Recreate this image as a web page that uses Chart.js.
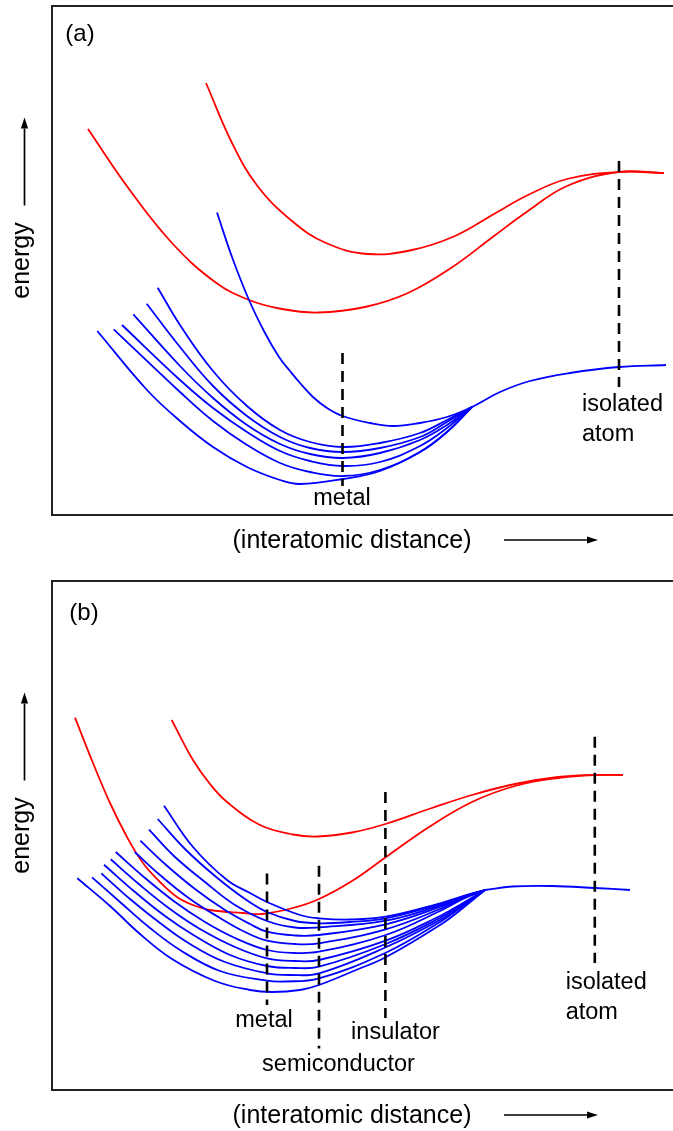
<!DOCTYPE html>
<html><head><meta charset="utf-8">
<script src="https://cdn.jsdelivr.net/npm/chart.js@4/dist/chart.umd.min.js"></script>
<style>
html,body{margin:0;padding:0;background:#fff;overflow:hidden;}
#wrap{position:relative;width:673px;height:1131px;}
canvas{position:absolute;left:0;}
</style></head><body>
<div id="wrap">
<canvas id="ca" width="673" height="566" style="top:0"></canvas>
<canvas id="cb" width="673" height="565" style="top:566px"></canvas>
</div>
<script>
// ---------- Panel (a) data: [distance, energy] in arbitrary units ----------
const A_RED_UPPER = [[15.4,43.2],[18.0,37.2],[20.55,32.9],[24.0,29.4],[27.4,27.2],[31.6,26.1],[36.0,26.5],[40.3,27.9],[44.2,30.1],[47.6,32.0],[51.5,33.6],[56.7,34.3],[61.2,34.2]];
const A_RED_LOWER = [[3.6,38.6],[7.7,32.6],[12.0,27.2],[16.3,23.3],[19.7,21.5],[23.0,20.6],[26.6,20.25],[31.3,20.8],[35.6,22.2],[39.9,24.7],[44.2,27.9],[47.6,30.4],[51.5,32.9],[56.7,34.3],[61.2,34.2]];
const A_BLUE_UPPER = [[16.5,30.25],[18.0,25.8],[19.7,21.5],[21.3,18.2],[22.7,15.8],[23.8,14.4],[24.8,13.2],[26.1,11.8],[27.5,10.7],[29.05,9.9],[31.8,9.2],[34.1,8.9],[36.8,9.2],[39.5,9.8],[42.0,10.8],[44.8,12.3],[47.8,13.4],[51.8,14.2],[56.7,14.8],[61.4,15.0]];
const A_BAND_1 = [[10.57,22.73],[12.8,19.0],[16.1,14.4],[19.5,10.9],[22.8,8.5],[25.8,7.3],[29.1,6.8],[32.8,7.2],[36.8,8.2],[39.5,9.5],[42.0,10.8]];
const A_BAND_2 = [[9.47,21.13],[12.8,16.8],[16.1,12.9],[19.5,9.9],[22.8,7.8],[25.8,6.7],[29.1,6.3],[32.8,6.7],[36.8,7.8],[39.5,9.3],[42.0,10.8]];
const A_BAND_3 = [[8.13,20.07],[12.8,14.9],[16.1,11.7],[19.5,9.0],[22.8,7.1],[25.8,6.1],[29.1,5.7],[32.8,6.2],[36.8,7.5],[39.5,9.0],[42.0,10.8]];
const A_BAND_4 = [[7.0,19.0],[12.8,13.5],[16.1,10.7],[19.5,8.3],[22.8,6.4],[25.8,5.4],[29.1,4.9],[32.8,5.3],[36.8,6.9],[39.5,8.7],[42.0,10.8]];
const A_BAND_5 = [[6.17,18.57],[12.8,12.3],[16.1,9.4],[19.5,7.0],[22.8,5.2],[25.8,4.3],[29.1,3.9],[32.8,4.5],[36.8,6.3],[39.5,8.3],[42.0,10.8]];
const A_BAND_6 = [[4.53,18.4],[9.5,12.5],[12.8,9.4],[16.1,6.8],[19.5,4.8],[22.8,3.5],[24.8,3.1],[29.1,3.6],[32.8,4.4],[36.8,6.3],[39.5,8.3],[42.0,10.8]];
const A_MARK_METAL = [[29.05,16.2],[29.05,2.9]];
const A_MARK_ATOM  = [[56.7,35.4],[56.7,12.8]];

// ---------- Panel (b) data ----------
const B_RED_UPPER = [[11.97,37.0],[14.1,33.0],[15.8,30.6],[17.5,28.8],[20.8,26.5],[24.1,25.55],[26.5,25.35],[30.0,25.75],[33.34,26.6],[37.7,28.1],[42.0,29.5],[46.3,30.6],[50.6,31.3],[54.3,31.5],[57.1,31.5]];
const B_RED_LOWER = [[2.3,37.23],[4.1,32.7],[5.8,28.7],[7.5,25.3],[9.1,22.7],[10.8,20.8],[12.5,19.3],[14.1,18.5],[15.8,18.0],[19.1,17.7],[21.0,17.6],[24.1,18.2],[26.7,19.1],[30.0,20.9],[33.34,23.25],[37.7,26.3],[42.0,28.8],[46.3,30.4],[50.6,31.2],[54.3,31.5],[57.1,31.5]];
const B_BAND_1  = [[2.53,21.17],[5.8,18.4],[8.8,15.6],[12.0,13.1],[16.3,10.9],[19.8,10.0],[22.0,9.8],[24.8,10.0],[26.7,10.5],[30.4,12.0],[33.37,13.27],[38.8,16.5],[41.1,18.2],[43.3,20.0]];
const B_BAND_2  = [[4.0,21.27],[6.8,18.8],[9.8,16.2],[12.8,14.0],[16.8,11.9],[21.5,10.93],[23.3,10.85],[26.7,11.17],[33.37,13.73],[38.8,16.8],[41.1,18.4],[43.3,20.0]];
const B_BAND_3  = [[4.93,21.67],[7.8,19.1],[10.8,16.7],[13.8,14.6],[17.3,12.8],[21.5,11.67],[23.8,11.5],[26.7,11.67],[33.37,14.27],[38.8,17.0],[41.1,18.5],[43.3,20.0]];
const B_BAND_4  = [[5.2,22.53],[8.3,19.8],[11.3,17.4],[14.3,15.4],[17.8,13.5],[21.5,12.4],[24.3,12.2],[26.7,12.33],[33.37,14.6],[38.8,17.2],[41.1,18.6],[43.3,20.0]];
const B_BAND_5  = [[5.87,23.07],[8.8,20.5],[11.8,18.1],[14.8,16.1],[18.3,14.3],[21.5,13.17],[24.3,12.9],[26.7,13.0],[33.37,14.93],[38.8,17.4],[41.1,18.7],[43.3,20.0]];
const B_BAND_6  = [[6.37,23.8],[9.3,21.2],[12.3,18.8],[15.3,16.8],[18.3,15.2],[21.5,14.0],[24.3,13.7],[26.7,13.83],[33.37,15.5],[38.8,17.9],[41.1,19.1],[43.3,20.0]];
const B_BAND_7  = [[8.27,23.8],[10.8,21.5],[13.8,19.1],[16.8,17.2],[19.3,15.8],[21.5,14.93],[24.3,14.6],[26.7,14.67],[33.37,16.07],[38.8,18.1],[41.1,19.2],[43.3,20.0]];
const B_BAND_8  = [[8.83,24.93],[11.3,22.6],[14.3,20.1],[17.3,18.0],[19.8,16.6],[21.5,15.83],[24.3,15.45],[26.7,15.5],[33.37,16.57],[38.8,18.3],[41.1,19.25],[43.3,20.0]];
const B_BAND_9  = [[9.7,26.03],[12.3,23.3],[15.3,20.8],[18.3,18.5],[21.5,16.9],[24.3,16.25],[26.7,16.27],[33.37,16.93],[38.8,18.43],[41.1,19.3],[43.3,20.0]];
const B_BAND_10 = [[10.57,27.1],[13.3,24.1],[16.3,21.4],[19.3,19.1],[21.5,17.8],[24.3,16.9],[26.7,16.67],[29.8,16.8],[33.37,17.17],[38.8,18.57],[41.1,19.35],[43.3,20.0]];
const B_BAND_11 = [[11.2,28.43],[14.1,24.3],[17.5,21.0],[19.8,19.7],[21.5,18.8],[24.8,17.5],[26.7,17.17],[29.8,17.05],[33.37,17.33],[38.8,18.67],[41.1,19.4],[43.3,20.0]];
const B_BLUE_TAIL = [[43.3,20.0],[46.0,20.35],[50.0,20.4],[54.3,20.2],[57.8,20.0]];
const B_MARK_METAL = [[21.5,21.64],[21.5,8.5]];
const B_MARK_SEMI  = [[26.7,22.43],[26.7,4.14]];
const B_MARK_INS   = [[33.34,29.8],[33.34,7.2]];
const B_MARK_ATOM  = [[54.28,35.32],[54.28,12.7]];

const X_TITLE = '(interatomic distance)';
const Y_TITLE = 'energy';

// ---------- styling / helpers ----------
const FONT = '"Liberation Sans", Arial, Helvetica, sans-serif';
const RED = '#ff0000', BLUE = '#0000ff';
const toPts = arr => arr.map(p => ({x: p[0], y: p[1]}));
const curve = (arr, color) => ({data: toPts(arr), borderColor: color, borderWidth: 1.8, pointRadius: 0, showLine: true, fill: false, tension: 0.4});
const mark = arr => ({data: toPts(arr), borderColor: '#000', borderWidth: 2.6, borderDash: [11, 7], pointRadius: 0, showLine: true, fill: false, tension: 0});

function arrow(ctx, x1, y1, x2, y2) {
  const ang = Math.atan2(y2 - y1, x2 - x1), L = 11, W = 3.6;
  const bx = x2 - L * Math.cos(ang), by = y2 - L * Math.sin(ang);
  ctx.strokeStyle = '#000'; ctx.fillStyle = '#000'; ctx.lineWidth = 1.7;
  ctx.beginPath(); ctx.moveTo(x1, y1); ctx.lineTo(bx, by); ctx.stroke();
  ctx.beginPath(); ctx.moveTo(x2, y2);
  ctx.lineTo(bx + W * Math.sin(ang), by - W * Math.cos(ang));
  ctx.lineTo(bx - W * Math.sin(ang), by + W * Math.cos(ang));
  ctx.closePath(); ctx.fill();
}

const deco = {
  id: 'deco',
  beforeDatasetsDraw(chart) {
    const {ctx, chartArea: a} = chart;
    ctx.save();
    ctx.strokeStyle = '#222'; ctx.lineWidth = 2;
    ctx.beginPath();
    ctx.moveTo(chart.width + 2, a.top); ctx.lineTo(a.left, a.top);
    ctx.lineTo(a.left, a.bottom); ctx.lineTo(chart.width + 2, a.bottom);
    ctx.stroke();
    ctx.restore();
  },
  afterDatasetsDraw(chart, args, o) {
    const {ctx, chartArea: a, scales: {x, y}} = chart;
    ctx.save();
    ctx.fillStyle = '#000';
    for (const l of o.labels) {
      ctx.font = `${l.size}px ${FONT}`;
      ctx.textAlign = l.align; ctx.textBaseline = 'middle';
      ctx.fillText(l.text, x.getPixelForValue(l.x), y.getPixelForValue(l.y));
    }
    const cy = (a.top + a.bottom) / 2;
    ctx.save();
    ctx.translate(a.left - 23, cy); ctx.rotate(-Math.PI / 2);
    ctx.font = `25px ${FONT}`; ctx.textAlign = 'center'; ctx.textBaseline = 'alphabetic';
    ctx.fillText(o.yTitle, 0, 0);
    ctx.restore();
    arrow(ctx, a.left - 27.5, cy - 55, a.left - 27.5, cy - 143);
    ctx.font = `25px ${FONT}`; ctx.textAlign = 'center'; ctx.textBaseline = 'middle';
    ctx.fillText(o.xTitle, a.left + 300, a.bottom + 26);
    arrow(ctx, a.left + 452, a.bottom + 25, a.left + 546, a.bottom + 25);
    ctx.restore();
  }
};

function makeChart(id, datasets, padding, labels) {
  return new Chart(document.getElementById(id), {
    type: 'scatter',
    data: {datasets},
    options: {
      responsive: false, animation: false, devicePixelRatio: 1,
      layout: {padding},
      scales: {
        x: {type: 'linear', min: 0, max: 62, display: false},
        y: {type: 'linear', min: 0, max: 50.9, display: false}
      },
      plugins: {legend: {display: false}, tooltip: {enabled: false},
        deco: {labels, xTitle: X_TITLE, yTitle: Y_TITLE}}
    },
    plugins: [deco]
  });
}

makeChart('ca', [
  mark(A_MARK_METAL), mark(A_MARK_ATOM),
  curve(A_BAND_1, BLUE), curve(A_BAND_2, BLUE), curve(A_BAND_3, BLUE),
  curve(A_BAND_4, BLUE), curve(A_BAND_5, BLUE), curve(A_BAND_6, BLUE),
  curve(A_BLUE_UPPER, BLUE),
  curve(A_RED_UPPER, RED), curve(A_RED_LOWER, RED)
], {left: 52, top: 6, right: 1, bottom: 51}, [
  {text: '(a)', x: 2.8, y: 48.1, align: 'center', size: 24},
  {text: 'metal', x: 29.0, y: 1.6, align: 'center', size: 23.5},
  {text: 'isolated', x: 53.0, y: 11.0, align: 'left', size: 23.5},
  {text: 'atom', x: 53.0, y: 8.0, align: 'left', size: 23.5}
]);

makeChart('cb', [
  mark(B_MARK_METAL), mark(B_MARK_SEMI), mark(B_MARK_INS), mark(B_MARK_ATOM),
  curve(B_BAND_1, BLUE), curve(B_BAND_2, BLUE), curve(B_BAND_3, BLUE), curve(B_BAND_4, BLUE),
  curve(B_BAND_5, BLUE), curve(B_BAND_6, BLUE), curve(B_BAND_7, BLUE), curve(B_BAND_8, BLUE),
  curve(B_BAND_9, BLUE), curve(B_BAND_10, BLUE), curve(B_BAND_11, BLUE), curve(B_BLUE_TAIL, BLUE),
  curve(B_RED_UPPER, RED), curve(B_RED_LOWER, RED)
], {left: 52, top: 15, right: 1, bottom: 41}, [
  {text: '(b)', x: 3.2, y: 47.7, align: 'center', size: 24},
  {text: 'metal', x: 21.2, y: 6.93, align: 'center', size: 23.5},
  {text: 'insulator', x: 34.35, y: 5.75, align: 'center', size: 23.5},
  {text: 'semiconductor', x: 28.65, y: 2.54, align: 'center', size: 23.5},
  {text: 'isolated', x: 51.37, y: 10.75, align: 'left', size: 23.5},
  {text: 'atom', x: 51.37, y: 7.7, align: 'left', size: 23.5}
]);
</script>
</body></html>
